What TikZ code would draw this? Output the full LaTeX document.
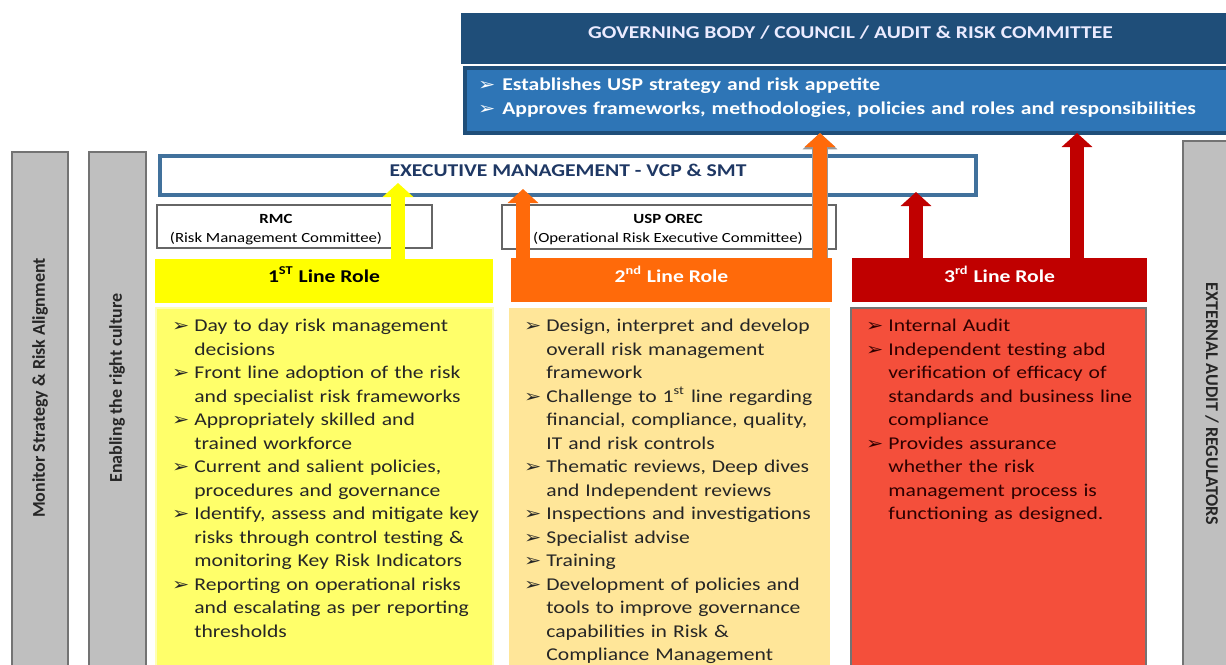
\documentclass[tikz,border=0pt]{standalone}
\usepackage{fontspec}
\setmainfont{Carlito}[FakeStretch=1.2]
\newfontfamily\hochfont{Carlito}
\newfontfamily\zeichenfont{DejaVu Sans}[FakeStretch=1.2]
\usetikzlibrary{arrows.meta}
\definecolor{dunkelblau}{HTML}{1F4E79}
\definecolor{mittelblau}{HTML}{2E75B6}
\definecolor{stahlblau}{HTML}{41719C}
\definecolor{nachtblau}{HTML}{1F3864}
\definecolor{gelb}{HTML}{FFFF00}
\definecolor{hellgelb}{HTML}{FFFF6A}
\definecolor{orangerot}{HTML}{FF6A0A}
\definecolor{pfirsich}{HTML}{FFE699}
\definecolor{dunkelrot}{HTML}{C00000}
\definecolor{hellrot}{HTML}{F44F3B}
\definecolor{grau}{HTML}{BFBFBF}
\newcommand{\pfeilchen}{{\zeichenfont\fontsize{8.6}{8.6}\selectfont ➢}}
\newenvironment{punkte}[1][12.5pt]
  {\begin{list}{\pfeilchen}{\setlength\leftmargin{#1}\setlength\labelwidth{10pt}%
    \setlength\labelsep{\dimexpr#1-10pt\relax}\setlength\itemsep{0pt}\setlength\parsep{0pt}%
    \setlength\topsep{0pt}\setlength\partopsep{0pt}}}
  {\end{list}}
\tikzset{kasten/.style={rectangle, inner sep=0pt, outer sep=0pt},
	kopf/.style={kasten, minimum height=22pt, text height=6pt, text depth=4pt,
		font=\bfseries\fontsize{9}{11}\selectfont},
	rumpf/.style={kasten, anchor=north, minimum height=190pt},
	balken/.style={kasten, anchor=north, fill=grau, draw=black!55, line width=0.8pt, minimum height=280pt},
	komitee/.style={kasten, draw=black!60, line width=0.6pt, fill=white},
	komtext/.style={align=center, inner sep=0pt, font=\fontsize{7}{9.5}\selectfont},
	seite/.style={inner sep=0pt, text=black!85, font=\hochfont\bfseries\fontsize{9}{11}\selectfont},
	liste/.style={anchor=north west, inner sep=0pt, text width=#1, text=black!85,
		font=\fontsize{9}{11.75}\selectfont},
	pfeil/.style={line width=7pt, -{Triangle[width=15pt,length=7pt]}} }
\begin{document}
\begin{tikzpicture}[x=0.5pt, y=-0.5pt]
  \clip (0,0) rectangle (1226,664);

  \node (s1) [balken, minimum width=28pt] at (40,152) {};
  \node (s2) [balken, minimum width=28.5pt] at (117.5,152) {};
  \node (s3) [balken, minimum width=28.5pt] at (1211.5,141) {};
  \node (s1t) [seite, rotate=90] at (40,388) {Monitor Strategy \& Risk Alignment};
  \node (s2t) [seite, rotate=90] at (117,388) {Enabling the right culture};
  \node (s3t) [seite, rotate=-90] at (1212,404) {EXTERNAL AUDIT / REGULATORS};

  \node (g) [kasten, fill=dunkelblau, minimum width=389.5pt, minimum height=25.5pt,
  	text height=6pt, text depth=5.7pt, text=white!92!blue,
  	font=\bfseries\fontsize{9}{11}\selectfont] at (850.5,38.5)
  	{GOVERNING BODY / COUNCIL / AUDIT \& RISK COMMITTEE};
  \node (gb) [kasten, fill=mittelblau, draw=dunkelblau, line width=2pt,
  	minimum width=387.5pt, minimum height=32.5pt] at (852.5,100.5) {};
  \node (gbt) [liste=400pt, text=white, font=\bfseries\fontsize{9}{12}\selectfont] at (475,66)
  	{\begin{punkte}[13.5pt]
  	 \item Establishes USP strategy and risk appetite
  	 \item Approves frameworks, methodologies, policies and roles and responsibilities
  	 \end{punkte}};

  \node (e) [kasten, draw=stahlblau, line width=2pt, fill=white, minimum width=408pt,
  	minimum height=19.5pt, text height=6pt, text depth=4.7pt, text=nachtblau,
  	font=\bfseries\fontsize{9}{11}\selectfont] at (568,175.5)
  	{EXECUTIVE MANAGEMENT - VCP \& SMT};

  \node (r1) [komitee, minimum width=137.5pt, minimum height=21.5pt] at (294.5,226.5) {};
  \node (r1t) [komtext] at (276,230) {\textbf{RMC}\\(Risk Management Committee)};
  \node (r2) [komitee, minimum width=167pt, minimum height=22pt] at (669,227) {};
  \node (r2t) [komtext] at (668,230) {\textbf{USP OREC}\\(Operational Risk Executive Committee)};

  \node (k1) [kopf, fill=gelb, minimum width=169pt] at (324,280.5) {1\textsuperscript{ST} Line Role};
  \node (k2) [kopf, fill=orangerot, text=white, minimum width=160.5pt] at (671.5,280) {2\textsuperscript{nd} Line Role};
  \node (k3) [kopf, fill=dunkelrot, text=white, minimum width=147.5pt] at (999.5,280) {3\textsuperscript{rd} Line Role};

  \node (b1) [rumpf, fill=hellgelb, draw=hellgelb!50!white, line width=0.8pt, minimum width=168.5pt] at (324.5,308) {};
  \node (b2) [rumpf, fill=pfirsich, minimum width=160.5pt] at (669.5,308) {};
  \node (b3) [rumpf, fill=hellrot, draw=black!55, line width=0.8pt, minimum width=147.5pt] at (998.5,308) {};

  \node (t1) [liste=165pt] at (169,308)
  	{\begin{punkte}
  	 \item Day to day risk management\newline decisions
  	 \item Front line adoption of the risk\newline and specialist risk frameworks
  	 \item Appropriately skilled and\newline trained workforce
  	 \item Current and salient policies,\newline procedures and governance
  	 \item Identify, assess and mitigate key\newline risks through control testing \&\newline monitoring Key Risk Indicators
  	 \item Reporting on operational risks\newline and escalating as per reporting\newline thresholds
  	 \end{punkte}};
  \node (t2) [liste=165pt] at (521,308)
  	{\begin{punkte}
  	 \item Design, interpret and develop\newline overall risk management\newline framework
  	 \item Challenge to 1\textsuperscript{st} line regarding\newline financial, compliance, quality,\newline IT and risk controls
  	 \item Thematic reviews, Deep dives\newline and Independent reviews
  	 \item Inspections and investigations
  	 \item Specialist advise
  	 \item Training
  	 \item Development of policies and\newline tools to improve governance\newline capabilities in Risk \&\newline Compliance Management
  	 \end{punkte}};
  \node (t3) [liste=150pt, text=black!70!red!60!black] at (863,308)
  	{\begin{punkte}
  	 \item Internal Audit
  	 \item Independent testing abd\newline verification of efficacy of\newline standards and business line\newline compliance
  	 \item Provides assurance\newline whether the risk\newline management process is\newline functioning as designed.
  	 \end{punkte}};

  \coordinate (p1) at (398,183);
  \coordinate (p2) at (523,189);
  \coordinate (p3) at (820,135);
  \coordinate (p4) at (916,192);
  \coordinate (p5) at (1077,135);
  \draw [pfeil, gelb] (k1.north -| p1) -- (p1);
  \draw [pfeil, orangerot] (k2.north -| p2) -- (p2);
  \draw [pfeil, orangerot, preaction={draw=black!40, line width=8.4pt,
  	-{Triangle[width=17pt,length=8.2pt]}}] (k2.north -| p3) -- (gb.south -| p3);
  \draw [pfeil, dunkelrot] (k3.north -| p4) -- (p4);
  \draw [pfeil, dunkelrot] (k3.north -| p5) -- (gb.south -| p5);
\end{tikzpicture}
\end{document}
